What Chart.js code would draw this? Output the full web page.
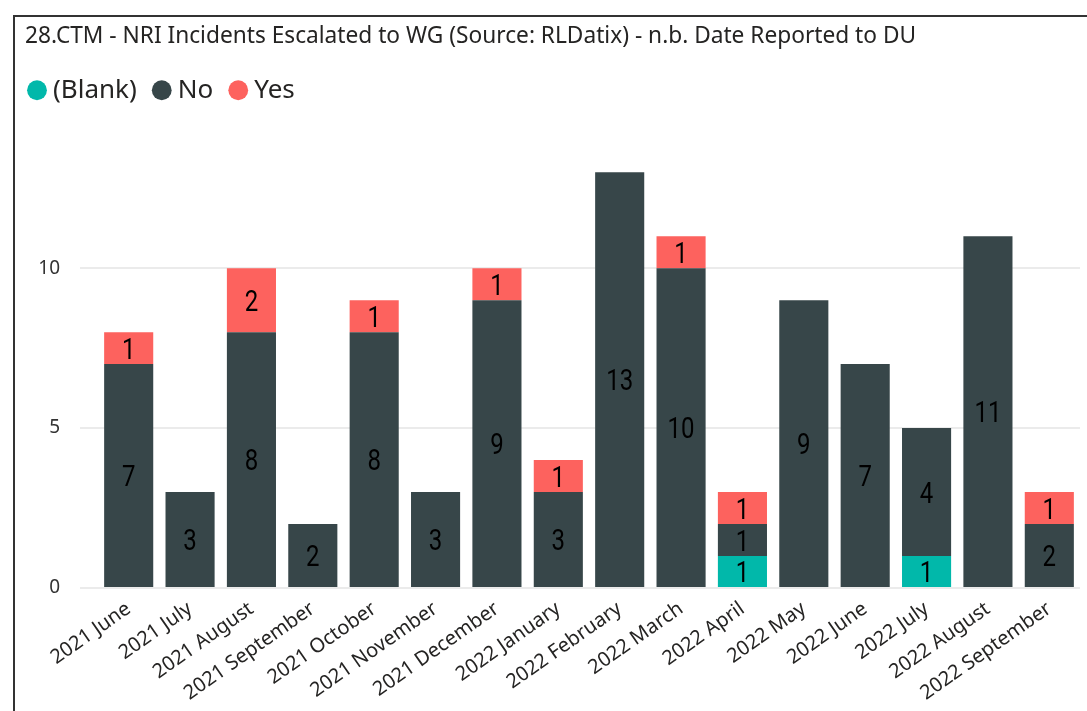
<!DOCTYPE html>
<html lang="en">

<head>
    <meta charset="UTF-8">
    <script src="https://cdn.jsdelivr.net/npm/chart.js@4.4.3/dist/chart.umd.min.js"></script>
    <style>
        html, body {
            margin: 0;
            padding: 0;
            background: #fff;
            overflow: hidden;
        }

        #frame {
            position: absolute;
            left: 13px;
            top: 15px;
            width: 1100px;
            height: 720px;
            border: 2px solid #333;
            box-sizing: border-box;
        }

        canvas {
            position: absolute;
            left: 0;
            top: 0;
        }
    </style>
</head>

<body>
    <div id="frame"></div>
    <canvas id="chart" width="1087" height="711"></canvas>

    <script>
        const months = [
            "2021 June", "2021 July", "2021 August", "2021 September", "2021 October",
            "2021 November", "2021 December", "2022 January", "2022 February", "2022 March",
            "2022 April", "2022 May", "2022 June", "2022 July", "2022 August", "2022 September"
        ];
        const blank_counts = [null, null, null, null, null, null, null, null, null, null, 1, null, null, 1, null, null];
        const no_counts = [7, 3, 8, 2, 8, 3, 9, 3, 13, 10, 1, 9, 7, 4, 11, 2];
        const yes_counts = [1, null, 2, null, 1, null, 1, 1, null, 1, 1, null, null, null, null, 1];

        const font_family = '"Noto Sans", "Open Sans", sans-serif';

        // draw the value in the middle of every bar segment (narrow digits, like DIN)
        const bar_labels = {
            id: "bar_labels",
            afterDatasetsDraw(chart) {
                let ctx = chart.ctx;
                chart.data.datasets.forEach((dataset, i) => {
                    chart.getDatasetMeta(i).data.forEach((bar, j) => {
                        let value = dataset.data[j];
                        if (!value) return;
                        let props = bar.getProps(["x", "y", "base"], true);
                        ctx.save();
                        ctx.translate(props.x, (props.y + props.base) / 2 + 10.5);
                        ctx.scale(0.8, 1);
                        ctx.font = '30px Roboto, "DejaVu Sans", sans-serif';
                        ctx.fillStyle = "#000";
                        ctx.textAlign = "center";
                        ctx.textBaseline = "alphabetic";
                        ctx.fillText(value, 0, 0);
                        ctx.restore();
                    });
                });
            }
        };

        // legend sits a bit left of the title and leaves a gap above the plot
        const legend_tweak = {
            id: "legend_tweak",
            beforeLayout(chart) {
                let legend = chart.legend;
                if (legend && !legend._gap_patched) {
                    let fit = legend.fit.bind(legend);
                    legend.fit = function () {
                        fit();
                        this.height += 27;
                    };
                    legend._gap_patched = true;
                }
            },
            afterLayout(chart) {
                if (chart.legend) {
                    chart.legend.left -= 13;
                    chart.legend.right -= 13;
                }
            }
        };

        let chartjs = new Chart(document.getElementById("chart"), {
            type: "bar",
            data: {
                labels: months,
                datasets: [
                    { label: "(Blank)", data: blank_counts, backgroundColor: "#01B8AA" },
                    { label: "No", data: no_counts, backgroundColor: "#374649" },
                    { label: "Yes", data: yes_counts, backgroundColor: "#FD625E" }
                ]
            },
            options: {
                responsive: false,
                animation: false,
                devicePixelRatio: 1,
                layout: {
                    padding: { left: 25, right: 7, top: 17, bottom: 0 }
                },
                datasets: {
                    bar: {
                        categoryPercentage: 0.8,
                        barPercentage: 1.0
                    }
                },
                plugins: {
                    tooltip: { enabled: false },
                    title: {
                        display: true,
                        align: "start",
                        text: "28.CTM - NRI Incidents Escalated to WG (Source: RLDatix) - n.b. Date Reported to DU",
                        color: "#252423",
                        font: { family: font_family, size: 22.7, weight: "normal" },
                        padding: { top: 6, bottom: 5 }
                    },
                    legend: {
                        display: true,
                        align: "start",
                        labels: {
                            usePointStyle: true,
                            pointStyle: "circle",
                            boxWidth: 6,
                            boxHeight: 14,
                            padding: 22,
                            color: "#252423",
                            font: { family: font_family, size: 26 }
                        }
                    }
                },
                scales: {
                    x: {
                        stacked: true,
                        grid: { display: false },
                        border: { display: false },
                        ticks: {
                            color: "#252423",
                            font: { family: font_family, size: 20 },
                            padding: 1,
                            minRotation: 35,
                            maxRotation: 35,
                            autoSkip: false
                        },
                        afterFit(scale) {
                            scale.height = 123;
                        }
                    },
                    y: {
                        stacked: true,
                        min: 0,
                        max: 14,
                        border: { display: false },
                        grid: {
                            color: "#ebebeb",
                            lineWidth: 2,
                            tickLength: 18
                        },
                        ticks: {
                            stepSize: 5,
                            padding: 20,
                            color: "#333",
                            font: { family: font_family, size: 19 },
                            callback: value => (value % 5 === 0 ? value : null)
                        },
                        afterFit(scale) {
                            scale.width = 73;
                        }
                    }
                }
            },
            plugins: [bar_labels, legend_tweak]
        });
    </script>
</body>

</html>
